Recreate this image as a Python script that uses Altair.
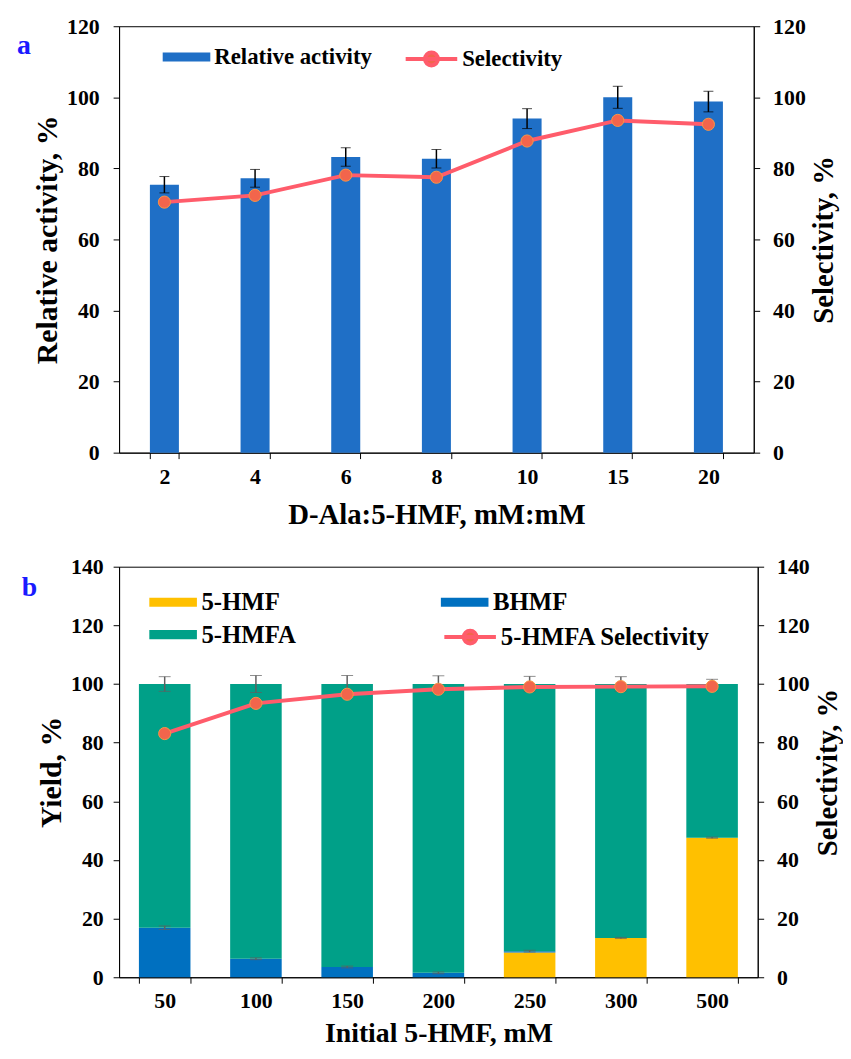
import altair as alt
import pandas as pd

FONT = "Liberation Serif"

# ---------------- Panel a data ----------------
ratio_labels = ["2", "4", "6", "8", "10", "15", "20"]
rel_activity = [75.4, 77.2, 83.2, 82.7, 94.0, 100.0, 98.8]
rel_activity_err = [2.3, 2.5, 2.6, 2.6, 2.8, 3.1, 2.9]
selectivity_a = [70.5, 72.4, 78.1, 77.5, 87.7, 93.5, 92.4]

# ---------------- Panel b data ----------------
conc_labels = ["50", "100", "150", "200", "250", "300", "500"]
hmf_yield = [0.0, 0.0, 0.0, 0.0, 8.4, 13.4, 47.6]
bhmf_yield = [16.9, 6.3, 3.5, 1.5, 0.5, 0.0, 0.0]
total_err = [2.5, 2.9, 2.9, 2.8, 2.6, 2.5, 1.6]
low_err = [0.6, 0.3, 0.3, 0.3, 0.3, 0.2, 0.2]
selectivity_b = [83.1, 93.4, 96.5, 98.2, 99.0, 99.1, 99.2]

LINE_COLOR = "#FF5C6B"
POINT_FILL = "#F2654C"
POINT_STROKE = "#F79646"

RECT_PATH = "M-2,-0.38H2V0.38H-2Z"
LINE_PATH = "M-2,0H2M0.5,0A0.5,0.5,0,1,1,-0.5,0A0.5,0.5,0,1,1,0.5,0Z"


def legend(x, y, path, size, fs, **kw):
    return alt.Legend(
        title=None, orient="none", legendX=x, legendY=y, direction="horizontal",
        symbolType=path, symbolSize=size, labelFont=FONT, labelFontSize=fs,
        labelFontWeight="bold", labelColor="black", labelLimit=500, **kw)


def panel_title(txt, off, dy):
    return alt.TitleParams(txt, orient="left", anchor="end", angle=0, color="#1a1aff",
                           font=FONT, fontSize=28, fontWeight="bold", offset=off,
                           baseline="top", dy=dy)


# ---------------- Panel a ----------------
df_a = pd.DataFrame({"x": ratio_labels, "act": rel_activity, "err": rel_activity_err,
                     "sel": selectivity_a})
df_a["lo"] = df_a["act"] - df_a["err"]
df_a["hi"] = df_a["act"] + df_a["err"]
df_a["s1"] = "Relative activity"
df_a["s2"] = "Selectivity"

TITLE_A_L = "Relative activity, %"
TITLE_A_R = "Selectivity, %"

xa = alt.X("x:N", sort=ratio_labels,
           scale=alt.Scale(paddingInner=0.68, paddingOuter=0.34),
           axis=alt.Axis(title="D-Ala:5-HMF, mM:mM", labelAngle=0, tickBand="extent",
                         labelPadding=8, titlePadding=13, titleFontSize=29))

bars_a = alt.Chart(df_a).mark_bar().encode(
    x=xa,
    y=alt.Y("act:Q", scale=alt.Scale(domain=[0, 120]), title=TITLE_A_L,
            axis=alt.Axis(values=[0, 20, 40, 60, 80, 100, 120], labelPadding=14,
                          titlePadding=4)),
    fill=alt.Fill("s1:N", scale=alt.Scale(domain=["Relative activity"], range=["#1F6FC6"]),
                  legend=legend(56, 19, RECT_PATH, 24 * 24, 23, labelOffset=16,
                                symbolStrokeWidth=0)),
)
err_a = alt.Chart(df_a).mark_errorbar(
    ticks=alt.MarkConfig(size=10, color="black", strokeWidth=1.5),
    rule=alt.MarkConfig(color="black", strokeWidth=1.5),
).encode(x=alt.X("x:N", sort=ratio_labels), y=alt.Y("lo:Q", title=TITLE_A_L), y2="hi:Q")

line_a = alt.Chart(df_a).mark_line(strokeWidth=4).encode(
    x=alt.X("x:N", sort=ratio_labels),
    y=alt.Y("sel:Q", scale=alt.Scale(domain=[0, 120]), title=TITLE_A_R,
            axis=alt.Axis(values=[0, 20, 40, 60, 80, 100, 120], orient="right",
                          titleAngle=270, titleBaseline="top", labelPadding=13,
                          titlePadding=4, titleFontSize=29)),
    stroke=alt.Stroke("s2:N", scale=alt.Scale(domain=["Selectivity"], range=[LINE_COLOR]),
                      legend=legend(300, 18, LINE_PATH, 26 * 26, 23, labelOffset=16,
                                    symbolStrokeWidth=4, symbolFillColor=POINT_FILL)),
)
pts_a = alt.Chart(df_a).mark_point(filled=True, size=150, fill=POINT_FILL, stroke=POINT_STROKE,
                                   strokeWidth=1, opacity=1).encode(
    x=alt.X("x:N", sort=ratio_labels), y=alt.Y("sel:Q", title=TITLE_A_R))

panel_a = alt.layer(alt.layer(bars_a, err_a), alt.layer(line_a, pts_a)).resolve_scale(
    y="independent", fill="independent", stroke="independent"
).properties(width=640, height=430, title=panel_title("a", -12, 17))

# ---------------- Panel b ----------------
comps = ["5-HMF", "BHMF", "5-HMFA"]
rows = []
for i, c in enumerate(conc_labels):
    hmfa = 100.0 - hmf_yield[i] - bhmf_yield[i]
    for k, (name, v) in enumerate(zip(comps, [hmf_yield[i], bhmf_yield[i], hmfa])):
        rows.append({"x": c, "comp": name, "val": v, "ord": k})
df_b = pd.DataFrame(rows)

err_rows = []
for i, c in enumerate(conc_labels):
    base = hmf_yield[i] + bhmf_yield[i]
    err_rows.append({"x": c, "lo": base - low_err[i], "hi": base + low_err[i]})
    err_rows.append({"x": c, "lo": 100 - total_err[i], "hi": 100 + total_err[i]})
df_be = pd.DataFrame(err_rows)

df_bs = pd.DataFrame({"x": conc_labels, "sel": selectivity_b, "s2": "5-HMFA Selectivity"})

TITLE_B_L = "Yield, %"
TITLE_B_R = "Selectivity, %"

xb = alt.X("x:N", sort=conc_labels,
           scale=alt.Scale(paddingInner=0.435, paddingOuter=0.2175),
           axis=alt.Axis(title="Initial 5-HMF, mM", labelAngle=0, tickBand="extent",
                         labelPadding=8, titlePadding=8, titleFontSize=28))

bars_b = alt.Chart(df_b).mark_bar().encode(
    x=xb,
    y=alt.Y("val:Q", stack="zero", scale=alt.Scale(domain=[0, 140]), title=TITLE_B_L,
            axis=alt.Axis(values=[0, 20, 40, 60, 80, 100, 120, 140], labelPadding=10,
                          titlePadding=4)),
    fill=alt.Fill("comp:N", scale=alt.Scale(domain=comps, range=["#FFC000", "#0070C0", "#00A088"]),
                  legend=legend(42, 23, RECT_PATH, 24 * 24, 25, labelOffset=16,
                                symbolStrokeWidth=0, columns=2, columnPadding=145,
                                rowPadding=7)),
    order=alt.Order("ord:Q"),
)
err_b = alt.Chart(df_be).mark_errorbar(
    ticks=alt.MarkConfig(size=12, color="#5f5f5f", strokeWidth=1.5),
    rule=alt.MarkConfig(color="#5f5f5f", strokeWidth=1.5),
).encode(x=alt.X("x:N", sort=conc_labels), y=alt.Y("lo:Q", title=TITLE_B_L), y2="hi:Q")

line_b = alt.Chart(df_bs).mark_line(strokeWidth=4).encode(
    x=alt.X("x:N", sort=conc_labels),
    y=alt.Y("sel:Q", scale=alt.Scale(domain=[0, 140]), title=TITLE_B_R,
            axis=alt.Axis(values=[0, 20, 40, 60, 80, 100, 120, 140], orient="right",
                          titleAngle=270, titleBaseline="top", labelPadding=13,
                          titlePadding=4, titleFontSize=29)),
    stroke=alt.Stroke("s2:N", scale=alt.Scale(domain=["5-HMFA Selectivity"], range=[LINE_COLOR]),
                      legend=legend(339, 56, LINE_PATH, 26 * 26, 25, labelOffset=16,
                                    symbolStrokeWidth=4, symbolFillColor=POINT_FILL)),
)
pts_b = alt.Chart(df_bs).mark_point(filled=True, size=150, fill=POINT_FILL, stroke=POINT_STROKE,
                                    strokeWidth=1, opacity=1).encode(
    x=alt.X("x:N", sort=conc_labels), y=alt.Y("sel:Q", title=TITLE_B_R))

panel_b = alt.layer(alt.layer(bars_b, err_b), alt.layer(line_b, pts_b)).resolve_scale(
    y="independent", fill="independent", stroke="independent"
).properties(width=644, height=414, title=panel_title("b", -16, 19))

chart = alt.concat(panel_a, panel_b, columns=1, spacing=25, align="none").properties(
    padding={"left": 8, "top": 2, "right": 0, "bottom": 0}
).configure_view(stroke="black", strokeWidth=1).configure_axis(
    labelFont=FONT, labelFontSize=22, labelFontWeight="bold", labelColor="black",
    titleFont=FONT, titleFontSize=30, titleFontWeight="bold", titleColor="black",
    domainColor="black", tickColor="black", grid=False, tickSize=6, domainWidth=1,
)

chart.save("out.html", embed_options={"renderer": "svg", "actions": False})
